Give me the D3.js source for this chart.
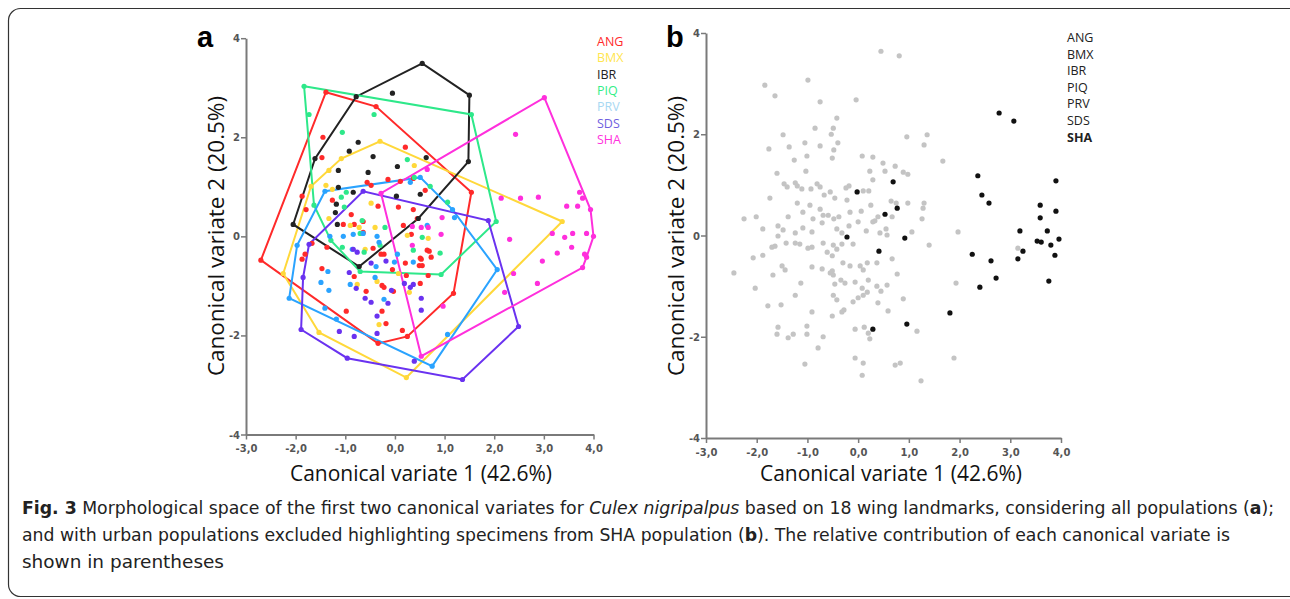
<!DOCTYPE html>
<html><head><meta charset="utf-8">
<script src="https://cdn.jsdelivr.net/npm/d3@7"></script>
<style>
html,body{margin:0;padding:0;background:#fff;}
svg{display:block;}
</style></head>
<body>
<svg id="chart" width="1290" height="599"></svg>
<script>
// ---------- DATA ----------
const groupNames = ["ANG","BMX","IBR","PIQ","PRV","SDS","SHA"];
const groupColors = ["#ff2a2a","#ffd83a","#222222","#2ee88a","#2aa3ff","#6a32f0","#ff2fdc"];
const legendColors = ["#ff2a2a","#ffe650","#222222","#33ee88","#a8d8f2","#6f5fe0","#ff33dd"];

const ANG = [[-1.39,2.91],[-0.38,2.62],[1.54,0.89],[1.18,-1.15],[0.25,-2.02],[-0.34,-2.16],[-2.70,-0.48],
 [-1.45,2.00],[-1.47,1.59],[0.21,1.80],[0.37,1.17],[0.61,0.93],[-0.56,1.09],[-0.48,1.03],[-0.14,1.15],[0.11,1.11],
 [-1.26,0.73],[-1.87,0.81],[-1.79,0.54],[-0.34,0.61],[0.07,0.59],[-0.88,0.44],[-0.82,0.24],[-1.04,0.24],[0.37,0.54],
 [0.45,0.36],[0.17,0.22],[-0.64,0.08],[0.33,0.04],[-1.37,-0.22],[-0.44,-0.24],[-0.28,-0.36],[-0.22,-0.36],[0.65,-0.28],
 [-1.87,-0.46],[-1.81,-0.36],[-1.67,-0.14],[0.21,-0.54],[0.49,-0.59],[0.51,-0.44],[-1.47,-0.65],[-0.05,-0.67],[0.23,-0.79],
 [-0.22,-1.03],[-0.03,-1.11],[0.51,-0.95],[0.67,-0.79],[-0.58,-1.11],[-0.26,-1.51],[-0.98,-1.51],[-0.18,-1.76],[0.15,-1.90],
 [0.69,-0.30],[0.73,-0.42],[0.53,-0.46],[0.55,-0.59],[-0.64,0.30],[-0.82,-0.81],[-0.26,-0.99]];
const BMX = [[-0.30,1.92],[3.37,0.30],[0.23,-2.85],[-1.53,-1.94],[-2.25,-0.75],[-1.69,1.01],[-1.33,1.33],[-1.08,1.57],
 [0.39,1.43],[-1.39,1.03],[-1.26,0.95],[-1.33,0.36],[-0.48,0.67],[-0.90,0.22],[-0.72,0.18],[-0.40,0.18],[0.25,0.02],
 [0.67,-0.04],[-0.60,-0.26],[-0.76,-0.97],[0.07,-0.75],[-0.36,-0.91],[0.29,-1.13],[-0.32,-1.78]];
const IBR = [[-0.78,2.82],[0.55,3.49],[1.50,2.85],[1.48,1.51],[0.47,0.36],[-0.72,-0.61],[-2.05,0.24],[-1.61,1.57],
 [-0.05,2.89],[-0.74,1.90],[-0.92,1.72],[-0.44,1.61],[0.05,1.41],[-1.14,1.33],[-0.54,1.29],[0.63,1.59],[0.51,0.85],
 [-1.14,0.99],[-0.84,0.89],[0.03,0.81],[-1.18,0.65],[-1.20,0.48],[-1.16,0.24]];
const PIQ = [[-1.83,3.03],[1.54,2.46],[2.04,0.30],[0.93,-0.77],[-0.70,-0.71],[-1.29,-0.08],[-1.63,0.63],
 [-1.73,2.46],[-0.42,2.46],[-1.06,2.10],[0.25,1.55],[0.71,1.01],[0.39,1.19],[-0.98,0.89],[-1.08,0.79],[-1.02,0.59],
 [-0.66,0.32],[-0.20,0.18],[-0.70,0.06],[-1.06,-0.22],[-0.62,-0.32],[-0.30,-0.18],[0.37,-0.28],[0.55,-0.02],
 [1.06,0.69],[0.91,-0.34]];
const PRV = [[-1.41,0.91],[0.51,1.19],[2.06,-0.67],[0.75,-2.62],[-2.13,-1.25],[-1.97,-0.18],
 [0.31,1.09],[-1.04,0.00],[-0.84,0.04],[-0.36,0.00],[-0.32,-0.12],[-0.86,-0.26],[0.05,-0.36],[-0.38,-0.61],[-0.01,-0.52],
 [0.37,-0.52],[-1.35,-0.71],[-0.90,-0.97],[-0.40,-0.83],[-1.49,-0.93],[-1.33,-1.09],[-0.22,-1.27],[-1.41,-1.45],
 [-1.18,-1.67],[-1.31,0.00],[-0.64,0.06],[1.16,0.54],[1.20,0.38],[0.65,0.22],[1.06,-1.98]];
const SDS = [[-0.64,0.91],[1.88,0.32],[2.49,-1.82],[1.36,-2.89],[-0.96,-2.46],[-1.89,-1.88],[-1.85,-0.83],[-1.73,-0.16],
 [-0.76,-0.32],[-0.48,-0.54],[-0.18,-0.50],[-0.92,-0.73],[-0.78,-1.05],[-0.07,-1.09],[0.19,-0.95],[0.37,-0.97],
 [-0.60,-1.25],[-0.48,-1.33],[-0.14,-1.35],[-0.36,-1.61],[0.53,-1.49],[-1.12,-1.92],[-0.82,-2.02],[-0.36,-1.96],
 [0.39,-2.52],[0.53,-1.25],[0.31,-1.03],[-0.84,-0.26]];
const SHA = [[-0.28,0.87],[3.01,2.80],[3.94,0.54],[4.00,0.00],[3.86,-0.42],[3.78,-0.63],[0.53,-2.42],
 [2.43,2.06],[0.65,1.35],[2.14,0.77],[2.53,0.77],[2.89,0.79],[3.72,0.89],[3.78,0.77],[3.46,0.61],[3.68,0.61],
 [3.17,0.06],[3.42,-0.02],[3.58,0.06],[3.86,0.06],[2.31,-0.06],[3.27,-0.34],[3.56,-0.22],[2.97,-0.50],[3.82,-0.36],
 [2.39,-0.75],[2.87,-0.95],[2.21,-1.13],[0.93,0.04],[0.53,0.18],[0.97,-1.41],[0.95,0.38],[0.35,-0.18],[0.67,0.18],[0.35,0.20]];
const groupsA = [ANG,BMX,IBR,PIQ,PRV,SDS,SHA];

// panel b: other specimens (grey) and SHA specimens (black)
const otherB = [
 [-1.84,2.97],[-0.99,3.07],[-1.64,2.76],[-0.75,2.64],[-0.04,2.68],[-0.42,2.32],[-0.85,2.12],[-0.49,2.12],[-1.48,1.99],
 [-0.53,2.00],[-1.76,1.71],[-1.36,1.75],[-1.05,1.83],[-0.75,1.77],[-0.40,1.83],[-0.48,1.69],[0.08,1.57],[-1.01,1.57],
 [-0.51,1.53],[-1.26,1.49],[-1.60,1.23],[-1.03,1.27],[-1.46,1.02],[-1.24,1.04],[-0.81,1.02],[-1.74,0.74],[-1.11,0.92],
 [-0.93,0.92],[-0.67,0.80],[-0.55,0.86],[-0.46,0.74],[-0.18,0.98],[-0.22,0.70],[0.10,0.88],[-1.20,0.64],[-1.09,0.46],
 [-0.95,0.60],[-0.75,0.52],[-0.69,0.40],[-0.89,0.33],[-0.48,0.33],[-0.16,0.46],[0.06,0.48],[-1.38,0.37],[-1.58,0.19],
 [-1.88,0.13],[-2.01,0.37],[-2.25,0.33],[-1.48,0.11],[-1.24,0.05],[-1.09,0.15],[-0.91,0.07],[-0.71,0.25],[-0.42,0.13],
 [-0.18,0.19],[0.00,0.27],[0.16,0.09],[-1.40,0.96],[-1.20,0.98],[-0.75,0.96],[-0.59,0.40],[-0.38,0.37],[-0.32,0.05],
 [-0.24,0.94],
 [-2.07,-0.44],[-1.88,-0.39],[-1.70,-0.23],[-1.58,-0.01],[-1.42,-0.15],[-1.24,-0.15],[-1.15,-0.17],[-0.99,-0.25],
 [-0.69,-0.15],[-0.49,-0.19],[-0.42,-0.27],[-0.61,-0.33],[-0.51,-0.40],[-0.32,-0.17],[-0.10,-0.17],[-0.30,-0.54],
 [-0.16,-0.60],[0.04,-0.60],[-2.45,-0.74],[-2.03,-1.04],[-1.68,-0.78],[-1.50,-0.60],[-1.44,-0.68],[-1.13,-0.94],
 [-0.91,-0.62],[-0.71,-0.66],[-0.51,-0.70],[-0.49,-0.78],[-0.34,-0.88],[-0.46,-0.96],[-0.26,-0.94],[-0.06,-0.92],
 [0.10,-0.68],[0.20,-0.88],[-1.24,-1.18],[-0.49,-1.18],[-0.42,-1.27],[-0.10,-1.31],[0.00,-1.23],[0.10,-1.18],
 [0.18,-1.12],[-0.28,-1.47],[-0.32,-1.51],[-1.78,-1.39],[-1.52,-1.37],[-0.91,-1.51],[-0.51,-1.59],[-0.06,-1.85],
 [0.12,-1.81],[0.20,-1.93],[-1.58,-1.81],[-1.60,-1.95],[-1.38,-2.02],[-1.28,-1.95],[-1.01,-1.79],[-1.01,-1.95],
 [-0.69,-2.00],[-0.79,-2.22],[-0.06,-2.42],[0.10,-2.52],[-1.05,-2.54],[0.08,-2.76],[-1.64,-0.21],[-0.91,-0.23],
 [-0.55,-0.74],[0.18,-0.54],
 [0.45,3.64],[0.81,3.55],[0.96,1.95],[1.36,1.99],[1.30,1.79],[1.67,1.47],[0.29,1.55],[0.49,1.43],[0.73,1.37],
 [0.23,1.27],[0.53,1.27],[0.89,1.25],[0.98,1.21],[0.29,1.10],[0.21,0.88],[0.25,0.60],[0.65,0.68],[0.75,0.64],
 [0.98,0.64],[1.30,0.64],[1.28,0.54],[0.67,0.37],[0.33,0.29],[0.55,0.13],[1.06,0.07],[1.26,0.33],[1.97,0.07],
 [1.40,-0.19],[0.67,-0.46],[0.37,-0.54],[0.37,-1.00],[0.57,-0.98],[0.45,-1.10],[0.08,-1.04],[0.77,-0.76],
 [0.39,-1.33],[0.89,-1.25],[0.59,-1.49],[0.23,-2.04],[1.16,-1.89],[1.93,-0.94],[3.15,-0.25],[0.73,-2.56],
 [0.83,-2.52],[1.24,-2.87],[1.89,-2.42],[0.39,0.37],[0.29,0.27],[0.57,0.01],[0.43,0.05]];
const shaB = [[-0.02,0.86],[0.69,1.06],[0.77,0.54],[0.53,0.42],[-0.22,-0.03],[0.92,-0.05],[0.41,-0.31],[0.29,-1.85],
 [0.96,-1.75],[1.81,-1.53],[2.25,-0.37],[2.62,-0.50],[2.72,-0.84],[2.40,-1.02],[2.36,1.18],[2.44,0.80],[2.58,0.64],
 [2.78,2.42],[3.07,2.26],[3.90,1.08],[3.59,0.60],[3.90,0.48],[3.59,0.35],[3.19,0.09],[3.73,0.09],[3.96,-0.07],
 [3.15,-0.46],[3.25,-0.31],[3.53,-0.11],[3.61,-0.13],[3.80,-0.19],[3.88,-0.39],[3.76,-0.90]];

const xTicks = [-3,-2,-1,0,1,2,3,4];
const yTicks = [-4,-2,0,2,4];
const xTitle = "Canonical variate 1 (42.6%)";
const yTitle = "Canonical variate 2 (20.5%)";

// ---------- DRAW ----------
const svg = d3.select("#chart");
svg.append("rect").attr("x",8.5).attr("y",8.5).attr("width",1300).attr("height",588)
  .attr("rx",12).attr("fill","none").attr("stroke","#333").attr("stroke-width",1.2);

const fmtX = d => d.toFixed(1).replace(".", ",");
const fmtY = d => String(d);
function makePanel(xr, yr, label, labelPos, titleX, titleY) {
  const x = d3.scaleLinear().domain([-3,4]).range(xr);
  const y = d3.scaleLinear().domain([-4,4]).range(yr);
  const g = svg.append("g");
  const ax = g.append("g").attr("transform",`translate(0,${yr[0]})`)
    .call(d3.axisBottom(x).tickValues(xTicks).tickFormat(fmtX).tickSize(5).tickSizeOuter(0));
  const ay = g.append("g").attr("transform",`translate(${xr[0]},0)`)
    .call(d3.axisLeft(y).tickValues(yTicks).tickFormat(fmtY).tickSize(5).tickSizeOuter(0));
  [ax,ay].forEach(a=>{
    a.select(".domain").attr("stroke","#7a7a7a").attr("stroke-width",2);
    a.selectAll(".tick line").attr("stroke","#7a7a7a").attr("stroke-width",1.5);
    a.selectAll(".tick text").attr("fill","#555").attr("font-size","10px")
      .attr("font-family","DejaVu Sans, sans-serif").attr("font-weight","bold");
  });
  ax.selectAll(".tick text").attr("dy","0.95em");
  ay.selectAll(".tick text").attr("dy","0.35em").attr("x",-6);
  g.append("text").text(label).attr("x",labelPos[0]).attr("y",labelPos[1])
    .attr("font-family","Liberation Sans, Arial, sans-serif").attr("font-weight","bold").attr("font-size","29px");
  g.append("text").text(xTitle).attr("x",titleX[0]).attr("y",titleX[1]).attr("text-anchor","middle")
    .attr("font-family","Open Sans, sans-serif").attr("font-size","22px").attr("fill","#111")
    .attr("textLength",262).attr("lengthAdjust","spacingAndGlyphs");
  g.append("text").text(yTitle).attr("transform",`translate(${titleY[0]},${titleY[1]}) rotate(-90)`)
    .attr("text-anchor","middle")
    .attr("font-family","Open Sans, sans-serif").attr("font-size","22px").attr("fill","#111")
    .attr("textLength",280).attr("lengthAdjust","spacingAndGlyphs");
  return {x,y,g};
}

// Panel a
const A = makePanel([246,593.5],[434.5,38.2],"a",[197,47],[421,481],[224,236]);
groupsA.forEach((pts,i)=>{
  const hull = d3.polygonHull(pts.map(p=>[A.x(p[0]),A.y(p[1])]));
  A.g.append("path").attr("d","M"+hull.join("L")+"Z").attr("fill","none")
    .attr("stroke",groupColors[i]).attr("stroke-width",2);
});
groupsA.forEach((pts,i)=>{
  A.g.append("g").selectAll("circle").data(pts).join("circle")
    .attr("cx",d=>A.x(d[0])).attr("cy",d=>A.y(d[1])).attr("r",2.6).attr("fill",groupColors[i]);
});
A.g.append("g").selectAll("text").data(groupNames).join("text")
  .attr("x",597).attr("y",(d,i)=>46+i*16.3).text(d=>d)
  .attr("fill",(d,i)=>legendColors[i]).attr("font-size","12.5px").attr("font-family","Open Sans, sans-serif");

// Panel b
const B = makePanel([706,1061],[438,33],"b",[666,47],[891,481],[684,236]);
B.g.append("g").selectAll("circle").data(otherB).join("circle")
  .attr("cx",d=>B.x(d[0])).attr("cy",d=>B.y(d[1])).attr("r",2.6).attr("fill","#c4c4c4");
B.g.append("g").selectAll("circle").data(shaB).join("circle")
  .attr("cx",d=>B.x(d[0])).attr("cy",d=>B.y(d[1])).attr("r",2.6).attr("fill","#111");
B.g.append("g").selectAll("text").data(groupNames).join("text")
  .attr("x",1067).attr("y",(d,i)=>42+i*16.6).text(d=>d)
  .attr("fill","#222").attr("font-weight",d=>d==="SHA"?"bold":"normal")
  .attr("font-size","12.5px").attr("font-family","Open Sans, sans-serif");

// Caption
const cap = svg.append("g").attr("font-family","Liberation Sans Narrow, DejaVu Sans Condensed, Open Sans, sans-serif")
  .attr("font-size","18px").attr("fill","#222");
const l1 = cap.append("text").attr("x",22).attr("y",514).attr("textLength",1252).attr("lengthAdjust","spacingAndGlyphs");
l1.append("tspan").attr("font-weight","bold").text("Fig. 3");
l1.append("tspan").text(" Morphological space of the first two canonical variates for ");
l1.append("tspan").attr("font-style","italic").text("Culex nigripalpus");
l1.append("tspan").text(" based on 18 wing landmarks, considering all populations (");
l1.append("tspan").attr("font-weight","bold").text("a");
l1.append("tspan").text(");");
const l2 = cap.append("text").attr("x",22).attr("y",541).attr("textLength",1208).attr("lengthAdjust","spacingAndGlyphs");
l2.append("tspan").text("and with urban populations excluded highlighting specimens from SHA population (");
l2.append("tspan").attr("font-weight","bold").text("b");
l2.append("tspan").text("). The relative contribution of each canonical variate is");
cap.append("text").attr("x",22).attr("y",568).attr("textLength",202).attr("lengthAdjust","spacingAndGlyphs")
  .text("shown in parentheses");
</script>
</body></html>
